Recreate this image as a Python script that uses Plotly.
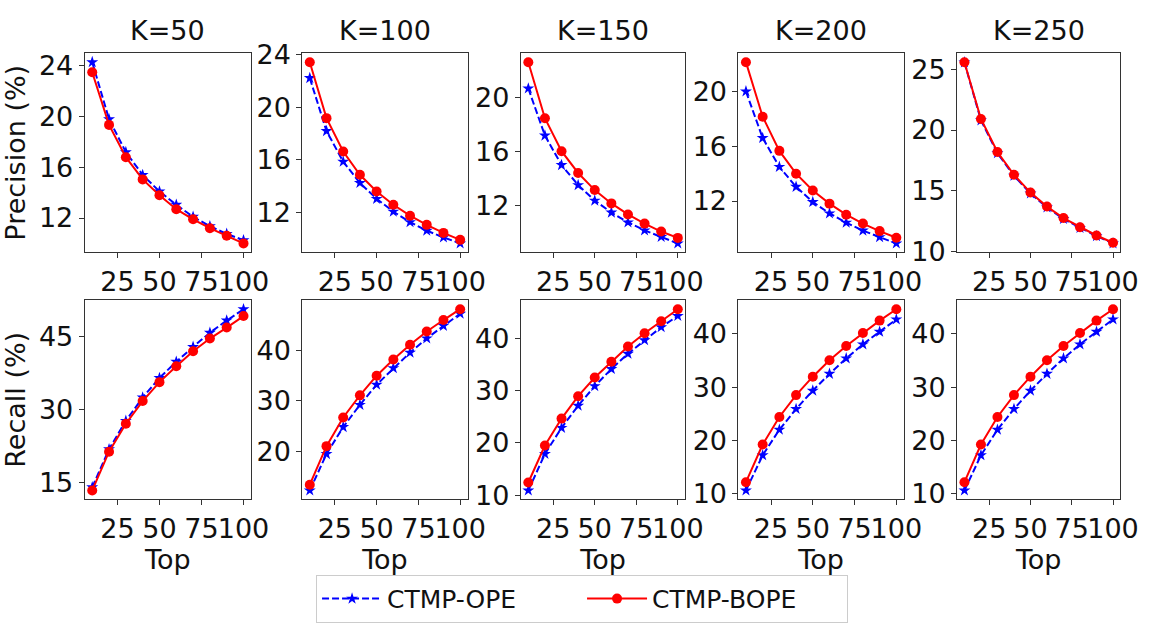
import plotly.graph_objects as go

top = [10, 20, 30, 40, 50, 60, 70, 80, 90, 100]
k_labels = ["K=50", "K=100", "K=150", "K=200", "K=250"]

prec_ope = [
    [24.3, 19.8, 17.2, 15.4, 14.1, 13.05, 12.1, 11.35, 10.75, 10.25],
    [22.23, 18.2, 15.87, 14.25, 13.04, 12.07, 11.27, 10.62, 10.11, 9.65],
    [20.68, 17.18, 14.99, 13.5, 12.35, 11.46, 10.73, 10.14, 9.65, 9.17],
    [20.02, 16.61, 14.5, 13.04, 11.93, 11.1, 10.42, 9.84, 9.36, 8.9],
    [25.55, 20.8, 18.1, 16.25, 14.8, 13.65, 12.7, 11.97, 11.3, 10.7],
]
prec_bope = [
    [23.5, 19.35, 16.8, 15.05, 13.8, 12.7, 11.9, 11.2, 10.6, 10.0],
    [23.44, 19.18, 16.64, 14.87, 13.6, 12.59, 11.76, 11.06, 10.45, 9.92],
    [22.63, 18.47, 16.02, 14.4, 13.13, 12.14, 11.32, 10.64, 10.05, 9.58],
    [22.16, 18.17, 15.67, 14.0, 12.77, 11.81, 11.0, 10.35, 9.8, 9.31],
    [25.57, 20.91, 18.2, 16.33, 14.87, 13.72, 12.78, 12.03, 11.35, 10.75],
]
rec_ope = [
    [14.13, 21.9, 27.7, 32.45, 36.46, 39.76, 42.8, 45.7, 48.18, 50.5],
    [12.2, 19.43, 24.79, 29.19, 33.21, 36.49, 39.57, 42.4, 44.9, 47.3],
    [10.9, 17.9, 22.9, 27.15, 30.9, 34.18, 37.1, 39.7, 42.2, 44.36],
    [10.59, 17.2, 22.0, 25.9, 29.34, 32.5, 35.41, 38.04, 40.41, 42.73],
    [10.59, 17.2, 22.0, 25.9, 29.34, 32.5, 35.41, 38.04, 40.41, 42.73],
]
rec_bope = [
    [13.48, 21.4, 27.1, 31.74, 35.6, 38.86, 41.9, 44.5, 46.75, 49.1],
    [13.34, 21.0, 26.68, 31.08, 34.98, 38.19, 41.13, 43.77, 46.04, 48.19],
    [12.42, 19.52, 24.67, 28.97, 32.55, 35.58, 38.48, 41.03, 43.33, 45.64],
    [12.14, 19.21, 24.39, 28.5, 31.96, 35.05, 37.73, 40.18, 42.5, 44.64],
    [12.14, 19.21, 24.39, 28.5, 31.96, 35.05, 37.73, 40.18, 42.5, 44.64],
]
prec_dtick = [4, 4, 4, 4, 5]
rec_dtick = [15, 10, 10, 10, 10]
x_ticks = [25, 50, 75, 100]

W, H = 1167, 628
col_px = [(86, 255), (307, 475), (529, 696), (750, 918), (972, 1138)]
row_px = [(41, 250), (300, 509)]

FONT = "DejaVu Sans"
TICK = 27
TITLE = 27
fig = go.Figure()
layout = {}

def yrange(a, b):
    lo = min(min(a), min(b)); hi = max(max(a), max(b))
    m = (hi - lo) * 0.05
    return [lo - m, hi + m]

idx = 0
for r in range(2):
    for c in range(5):
        idx += 1
        xa = "x" if idx == 1 else f"x{idx}"
        ya = "y" if idx == 1 else f"y{idx}"
        if r == 0:
            ope, bope, dt = prec_ope[c], prec_bope[c], prec_dtick[c]
        else:
            ope, bope, dt = rec_ope[c], rec_bope[c], rec_dtick[c]
        show = (idx == 1)
        fig.add_trace(go.Scatter(x=top, y=ope, xaxis=xa, yaxis=ya, name="CTMP-OPE",
                                 mode="lines+markers", showlegend=show,
                                 line=dict(color="#0000ff", width=2, dash="7px,3px"),
                                 marker=dict(symbol="star", size=9, color="#0000ff")))
        fig.add_trace(go.Scatter(x=top, y=bope, xaxis=xa, yaxis=ya, name="CTMP-BOPE",
                                 mode="lines+markers", showlegend=show,
                                 line=dict(color="#ff0000", width=2),
                                 marker=dict(symbol="circle", size=10, color="#ff0000")))
        x0, x1 = col_px[c]
        y0, y1 = row_px[r]
        axcommon = dict(showline=True, linecolor="#333", linewidth=1, mirror=True,
                        ticks="outside", ticklen=5, tickcolor="#333", showgrid=False,
                        zeroline=False, tickangle=0,
                        tickfont=dict(family=FONT, size=TICK, color="#111"))
        xkey = "xaxis" if idx == 1 else f"xaxis{idx}"
        ykey = "yaxis" if idx == 1 else f"yaxis{idx}"
        layout[xkey] = dict(domain=[x0 / W, x1 / W], anchor=ya, range=[5.5, 104.5],
                            tickmode="array", tickvals=x_ticks, ticktext=[str(v) for v in x_ticks],
                            **axcommon)
        layout[ykey] = dict(domain=[1 - y1 / H, 1 - y0 / H], anchor=xa,
                            range=yrange(ope, bope), tick0=0, dtick=dt, **axcommon)
        if r == 1:
            layout[xkey]["title"] = dict(text="Top", font=dict(family=FONT, size=TITLE, color="#111"), standoff=4)
        if c == 0:
            layout[ykey]["title"] = dict(text="Precision (%)" if r == 0 else "Recall (%)",
                                         font=dict(family=FONT, size=TITLE, color="#111"), standoff=6)

annotations = []
for c in range(5):
    x0, x1 = col_px[c]
    annotations.append(dict(text=k_labels[c], x=(x0 + x1) / 2 / W, y=1 - 36 / H,
                            xref="paper", yref="paper", showarrow=False,
                            xanchor="center", yanchor="bottom",
                            font=dict(family=FONT, size=TITLE, color="#111")))

fig.update_layout(
    width=W, height=H, margin=dict(l=0, r=0, t=0, b=0),
    plot_bgcolor="white", paper_bgcolor="white",
    annotations=annotations,
    legend=dict(orientation="h", x=321 / W, y=1 - 588 / H, xanchor="left", yanchor="top",
                bordercolor="#cccccc", borderwidth=1, bgcolor="white",
                font=dict(family=FONT, size=25, color="#111"), itemwidth=60,
                entrywidth=190, entrywidthmode="pixels"),
    **layout,
)

fig.write_html("out.html")
